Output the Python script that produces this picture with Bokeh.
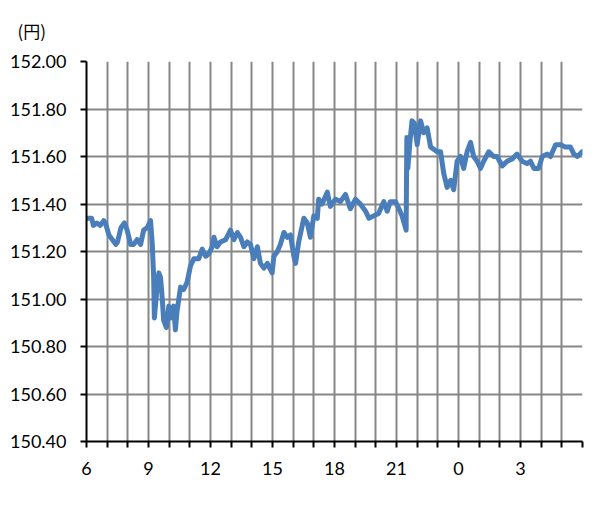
from bokeh.plotting import figure
from bokeh.models import Range1d, FixedTicker, PrintfTickFormatter
from bokeh.embed import file_html
from bokeh.resources import INLINE

# ---- data ----
times = ["06:00", "06:15", "06:20", "06:30", "06:40", "06:50", "06:55", "07:05", "07:15", "07:25",
         "07:30", "07:40", "07:50", "07:58", "08:08", "08:17", "08:27", "08:37", "08:46", "08:56",
         "09:06", "09:11", "09:15", "09:17", "09:25", "09:30", "09:35", "09:40", "09:44", "09:52",
         "09:59", "10:04", "10:13", "10:18", "10:23", "10:33", "10:42", "10:52", "11:02", "11:12",
         "11:26", "11:36", "11:46", "11:55", "12:05", "12:10", "12:19", "12:29", "12:44", "12:58",
         "13:08", "13:18", "13:27", "13:37", "13:47", "13:56", "14:06", "14:16", "14:25", "14:35",
         "14:45", "14:59", "15:04", "15:14", "15:23", "15:33", "15:43", "15:52", "16:02", "16:07",
         "16:16", "16:31", "16:41", "16:50", "17:00", "17:10", "17:14", "17:24", "17:39", "17:48",
         "18:03", "18:17", "18:32", "18:46", "19:01", "19:15", "19:30", "19:40", "19:54", "20:08",
         "20:23", "20:33", "20:42", "20:57", "21:07", "21:16", "21:28", "21:30", "21:33", "21:39",
         "21:45", "21:52", "22:00", "22:10", "22:19", "22:29", "22:39", "22:58", "23:08", "23:17",
         "23:27", "23:37", "23:46", "23:56", "00:06", "00:15", "00:25", "00:35", "00:44", "00:54",
         "01:04", "01:13", "01:28", "01:42", "01:52", "02:07", "02:21", "02:36", "02:50", "03:05",
         "03:19", "03:29", "03:39", "03:53", "04:03", "04:17", "04:27", "04:42", "04:56", "05:10",
         "05:25", "05:35", "05:45", "05:59"]
rates = [151.34, 151.34, 151.31, 151.32, 151.31, 151.33, 151.32, 151.27, 151.25, 151.23,
         151.24, 151.30, 151.32, 151.29, 151.23, 151.23, 151.25, 151.23, 151.29, 151.30,
         151.33, 151.23, 151.09, 150.92, 151.05, 151.11, 151.09, 151.00, 150.91, 150.88,
         150.97, 150.92, 150.97, 150.87, 150.95, 151.05, 151.04, 151.07, 151.14, 151.17,
         151.17, 151.21, 151.18, 151.19, 151.22, 151.26, 151.22, 151.24, 151.25, 151.29,
         151.25, 151.28, 151.26, 151.22, 151.24, 151.23, 151.17, 151.22, 151.15, 151.13,
         151.15, 151.11, 151.18, 151.20, 151.23, 151.28, 151.26, 151.27, 151.18, 151.15,
         151.24, 151.34, 151.32, 151.26, 151.35, 151.34, 151.42, 151.40, 151.45, 151.39,
         151.42, 151.41, 151.44, 151.38, 151.42, 151.40, 151.37, 151.34, 151.35, 151.36,
         151.41, 151.37, 151.41, 151.41, 151.38, 151.35, 151.29, 151.68, 151.55, 151.66,
         151.75, 151.74, 151.65, 151.75, 151.70, 151.72, 151.64, 151.62, 151.62, 151.53,
         151.47, 151.50, 151.46, 151.58, 151.60, 151.55, 151.62, 151.66, 151.60, 151.58,
         151.55, 151.58, 151.62, 151.60, 151.60, 151.56, 151.58, 151.59, 151.61, 151.58,
         151.57, 151.58, 151.55, 151.55, 151.60, 151.61, 151.60, 151.65, 151.65, 151.64,
         151.64, 151.61, 151.60, 151.62]
y_ticks = [150.40, 150.60, 150.80, 151.00, 151.20, 151.40, 151.60, 151.80, 152.00]
x_tick_hours = list(range(0, 25))
x_tick_labels = ["6", "", "", "9", "", "", "12", "", "", "15", "", "", "18", "", "",
                 "21", "", "", "0", "", "", "3", "", "", ""]
unit_label = "(円)"


def elapsed(t):
    hh, mm = t.split(":")
    return (int(hh) - 6) % 24 + int(mm) / 60.0


xs = [elapsed(t) for t in times]

FONT = "Lato"
p = figure(width=592, height=507, output_backend="svg", toolbar_location=None,
           x_range=Range1d(0, 24), y_range=Range1d(150.40, 152.00),
           title=unit_label, title_location="above")
p.min_border = 0
p.min_border_left = 86
p.min_border_right = 10
p.min_border_top = 60
p.min_border_bottom = 66
p.outline_line_color = None
p.background_fill_color = "white"
p.border_fill_color = "white"

p.title.align = "left"
p.title.vertical_align = "top"
p.title.offset = -69
p.title.standoff = 34
p.title.text_font = "Noto Sans CJK JP"
p.title.text_font_size = "17px"
p.title.text_font_style = "normal"
p.title.text_color = "black"

p.line(xs, rates, line_color="#4A7EBB", line_width=5, line_join="round", line_cap="round")

# axes
p.xaxis.ticker = FixedTicker(ticks=x_tick_hours)
p.xaxis.major_label_overrides = {h: lab for h, lab in zip(x_tick_hours, x_tick_labels)}
p.yaxis.ticker = FixedTicker(ticks=y_ticks)
p.yaxis.formatter = PrintfTickFormatter(format="%.2f")
for ax in (p.xaxis, p.yaxis):
    ax.axis_line_color = "black"
    ax.axis_line_width = 2
    ax.major_tick_line_color = "black"
    ax.major_tick_line_width = 2
    ax.major_tick_out = 6
    ax.major_tick_in = 0
    ax.minor_tick_line_color = None
    ax.major_label_text_font = FONT
    ax.major_label_text_font_size = "18px"
    ax.major_label_text_color = "black"
p.yaxis.major_label_standoff = 14
p.xaxis.major_label_standoff = 14

# grids
p.xgrid.ticker = FixedTicker(ticks=x_tick_hours)
p.ygrid.ticker = FixedTicker(ticks=y_ticks)
for g in (p.xgrid, p.ygrid):
    g.grid_line_color = "#878787"
    g.grid_line_width = 2

open("out.html", "w").write(file_html(p, INLINE))
